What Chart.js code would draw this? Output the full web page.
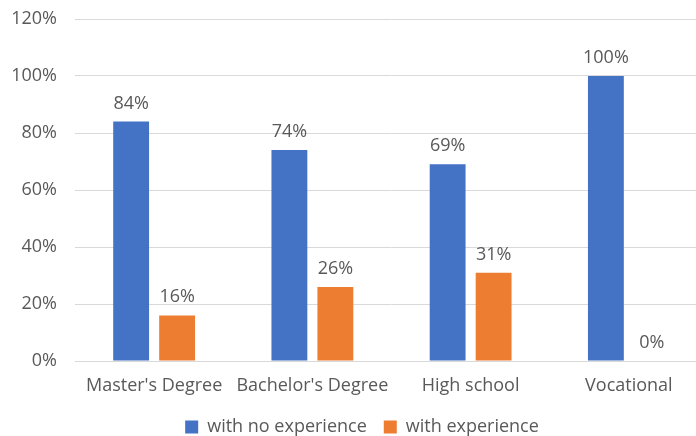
<!DOCTYPE html>
<html>
<head>
<meta charset="utf-8">
<script src="https://cdn.jsdelivr.net/npm/chart.js@4/dist/chart.umd.min.js"></script>
<style>
  html, body { margin: 0; padding: 0; background: #fff; overflow: hidden; }
  /* the original chart is cut off on the right and at the bottom, so the canvas is a bit larger than the window */
  #wrap { width: 696px; height: 436px; overflow: hidden; }
</style>
</head>
<body>
<div id="wrap"><canvas id="myChart" width="732" height="446"></canvas></div>
<script>
  // chart data
  var categories = ["Master's Degree", "Bachelor's Degree", "High school", "Vocational"];
  var noExperience = [84, 74, 69, 100];
  var withExperience = [16, 26, 31, 0];
  var seriesNames = ["with no experience", "with experience"];
  var seriesColors = ["#4472C4", "#ED7D31"];
  var yTicks = [0, 20, 40, 60, 80, 100, 120];

  var textColor = "#595959";
  var fontFamily = "'Open Sans', 'Liberation Sans', sans-serif";

  // value labels above each bar
  var barLabels = {
    id: "barLabels",
    afterDatasetsDraw(chart) {
      const ctx = chart.ctx;
      ctx.save();
      ctx.fillStyle = textColor;
      ctx.font = "18px " + fontFamily;
      ctx.textAlign = "center";
      ctx.textBaseline = "alphabetic";
      chart.data.datasets.forEach((ds, i) => {
        chart.getDatasetMeta(i).data.forEach((bar, j) => {
          ctx.fillText(ds.data[j] + "%", bar.x, bar.y - 13);
        });
      });
      ctx.restore();
    }
  };

  // nudge the legend a little to the right, where Excel put it
  var legendShift = {
    id: "legendShift",
    afterLayout(chart) {
      if (chart.legend) {
        chart.legend.left += 8;
        chart.legend.right += 8;
      }
    }
  };

  new Chart("myChart", {
    type: "bar",
    data: {
      labels: categories,
      datasets: [{
        label: seriesNames[0],
        data: noExperience,
        backgroundColor: seriesColors[0]
      }, {
        label: seriesNames[1],
        data: withExperience,
        backgroundColor: seriesColors[1]
      }]
    },
    options: {
      responsive: false,
      animation: false,
      layout: { padding: { top: 19, right: 24, bottom: 0, left: 0 } },
      datasets: {
        bar: { categoryPercentage: 0.581, barPercentage: 0.78 }
      },
      scales: {
        x: {
          grid: { display: false, drawTicks: false },
          border: { color: "#d9d9d9", width: 1 },
          ticks: {
            color: textColor,
            font: { size: 18, family: fontFamily },
            padding: 14,
            maxRotation: 0,
            autoSkip: false
          },
          afterFit(scale) { scale.height = 40; }
        },
        y: {
          min: 0,
          max: 120,
          afterBuildTicks(scale) { scale.ticks = yTicks.map(v => ({ value: v })); },
          grid: { color: "#d9d9d9", drawTicks: false },
          border: { display: false },
          ticks: {
            color: textColor,
            font: { size: 18, family: fontFamily },
            padding: 18,
            callback: v => v + "%"
          },
          afterFit(scale) {
            scale.width = 75;
            scale.paddingTop = 0;
            scale.paddingBottom = 0;
          }
        }
      },
      plugins: {
        tooltip: { enabled: false },
        legend: {
          position: "bottom",
          labels: {
            color: textColor,
            font: { size: 18, family: fontFamily },
            boxWidth: 13,
            boxHeight: 13,
            padding: 17
          }
        }
      }
    },
    plugins: [barLabels, legendShift]
  });
</script>
</body>
</html>
